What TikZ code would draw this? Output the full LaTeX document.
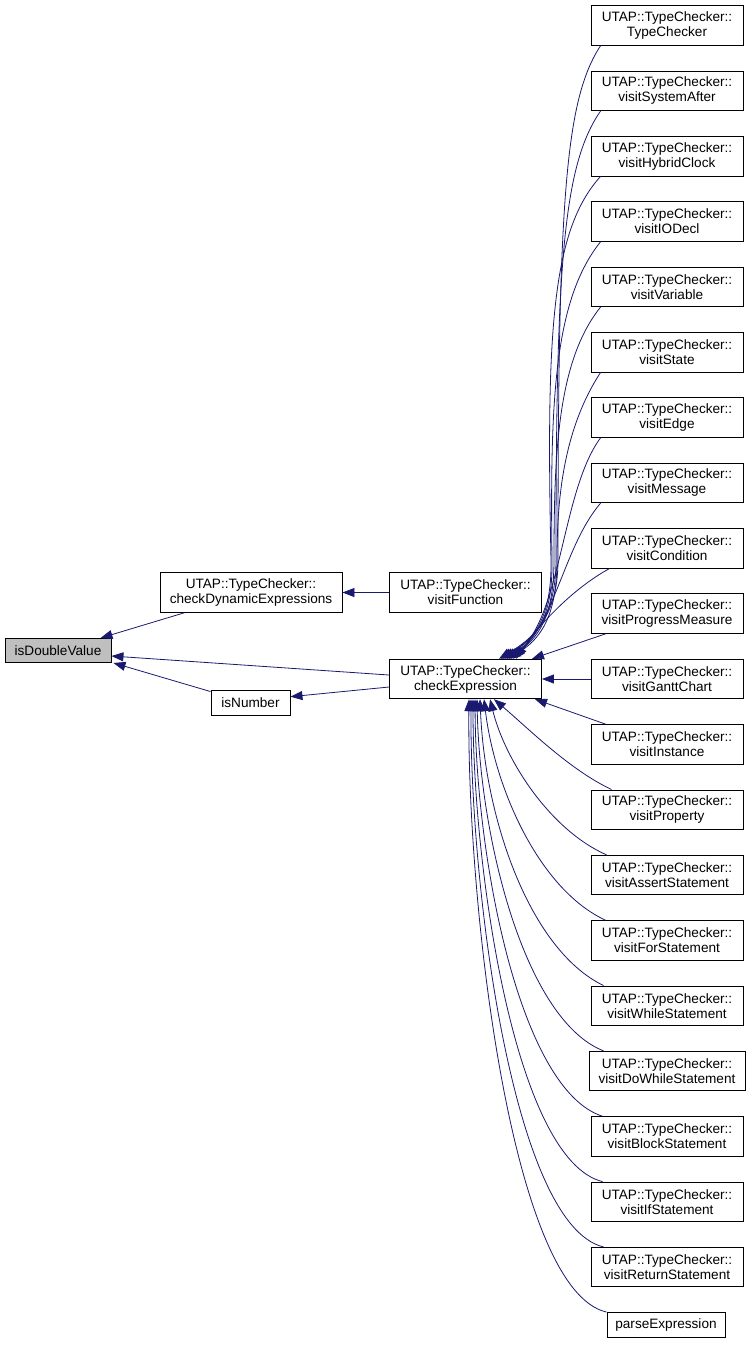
\documentclass[tikz,border=0pt]{standalone}
\usepackage{fontspec}
\setmainfont{Liberation Sans}
\usetikzlibrary{arrows.meta}
\definecolor{edgec}{RGB}{25,25,112}
\definecolor{grayfill}{RGB}{191,191,191}
\begin{document}
\begin{tikzpicture}[x=1pt,y=-1pt,
  box/.style={draw=black, line width=0.9pt, fill=white, inner sep=0pt, align=center,
    minimum width=152pt, minimum height=39.5pt, font=\fontsize{13.6}{15}\selectfont},
  e/.style={draw=edgec, line width=0.8pt, -{Triangle[length=12pt,width=9pt]}}]
\useasboundingbox (0,0) rectangle (751,1345);
% left part
\node[box, fill=grayfill, minimum width=106pt, minimum height=24pt] (IDV) at (58,650.5) {isDoubleValue};
\node[box, minimum width=182pt] (CD) at (251,592.5) {UTAP::TypeChecker::\\checkDynamicExpressions};
\node[box, minimum width=79pt, minimum height=25pt] (NUM) at (250.5,702.5) {isNumber};
\node[box] (VF) at (465.5,592.5) {UTAP::TypeChecker::\\visitFunction};
\node[box] (CE) at (465.5,679) {UTAP::TypeChecker::\\checkExpression};
% right column
\node[box] (TC) at (667,25.5) {UTAP::TypeChecker::\\TypeChecker};
\node[box] (SA) at (667,90.85) {UTAP::TypeChecker::\\visitSystemAfter};
\node[box] (HC) at (667,156.2) {UTAP::TypeChecker::\\visitHybridClock};
\node[box] (IO) at (667,221.55) {UTAP::TypeChecker::\\visitIODecl};
\node[box] (VA) at (667,286.9) {UTAP::TypeChecker::\\visitVariable};
\node[box] (ST) at (667,352.25) {UTAP::TypeChecker::\\visitState};
\node[box] (ED) at (667,417.6) {UTAP::TypeChecker::\\visitEdge};
\node[box] (ME) at (667,482.95) {UTAP::TypeChecker::\\visitMessage};
\node[box] (CO) at (667,548.3) {UTAP::TypeChecker::\\visitCondition};
\node[box] (PM) at (667,613.65) {UTAP::TypeChecker::\\visitProgressMeasure};
\node[box] (GC) at (667,679) {UTAP::TypeChecker::\\visitGanttChart};
\node[box] (IN) at (667,744.35) {UTAP::TypeChecker::\\visitInstance};
\node[box] (PR) at (667,809.7) {UTAP::TypeChecker::\\visitProperty};
\node[box] (AS) at (667,875.05) {UTAP::TypeChecker::\\visitAssertStatement};
\node[box] (FO) at (667,940.4) {UTAP::TypeChecker::\\visitForStatement};
\node[box] (WH) at (667,1005.75) {UTAP::TypeChecker::\\visitWhileStatement};
\node[box, minimum width=156pt] (DW) at (667,1071.1) {UTAP::TypeChecker::\\visitDoWhileStatement};
\node[box] (BL) at (667,1136.45) {UTAP::TypeChecker::\\visitBlockStatement};
\node[box] (IF) at (667,1201.8) {UTAP::TypeChecker::\\visitIfStatement};
\node[box] (RE) at (667,1267.15) {UTAP::TypeChecker::\\visitReturnStatement};
\node[box, minimum width=118pt, minimum height=25pt] (PE) at (666,1325) {parseExpression};
% left edges
\draw[e] ([xshift=25pt]CD.south west) -- ([xshift=-11pt]IDV.north east);
\draw[e] ([yshift=4pt]CE.west) -- ([yshift=-5.5pt]IDV.east);
\draw[e] ([yshift=-2pt]NUM.north west) -- ([xshift=2pt]IDV.south east);
\draw[e] ([yshift=-8pt]CE.west) -- ([yshift=5.8pt]NUM.east);
\draw[e] (VF.west) -- (CD.east);
% upper curved edges into checkExpression
\draw[e] ([xshift=10pt]TC.south west) .. controls (565,100) and (558,200) .. (558,560)
   .. controls (558,620) and (530,640) .. ([xshift=33.5pt]CE.north);
\draw[e] ([xshift=10pt]SA.south west) .. controls (563,165) and (556,265) .. (556,560)
   .. controls (556,620) and (531,640) .. ([xshift=35.5pt]CE.north);
\draw[e] ([xshift=10pt]HC.south west) .. controls (552,230) and (546,330) .. (551,560)
   .. controls (552,620) and (532,640) .. ([xshift=37.5pt]CE.north);
\draw[e] ([xshift=10pt]IO.south west) .. controls (554,300) and (550,400) .. (552,560)
   .. controls (553,620) and (534,640) .. ([xshift=39.5pt]CE.north);
\draw[e] ([xshift=10pt]VA.south west) .. controls (558,360) and (554,450) .. (554,560)
   .. controls (554,620) and (536,640) .. ([xshift=41.5pt]CE.north);
\draw[e] ([xshift=10pt]ST.south west) .. controls (563,430) and (557,500) .. (557,560)
   .. controls (557,620) and (538,640) .. ([xshift=43.5pt]CE.north);
\draw[e] ([xshift=10pt]ED.south west) .. controls (562,490) and (562,612) .. ([xshift=45.5pt]CE.north);
\draw[e] ([xshift=10pt]ME.south west) .. controls (565,545) and (557,615) .. ([xshift=47.5pt]CE.north);
\draw[e] ([xshift=19pt]CO.south west) .. controls (570,590) and (535,630) .. ([xshift=50.5pt]CE.north);
\draw[e] ([xshift=15pt]PM.south west) -- ([xshift=66.5pt]CE.north);
\draw[e] (GC.west) -- (CE.east);
\draw[e] ([xshift=15pt]IN.north west) -- ([xshift=69.5pt]CE.south);
% lower curved edges into checkExpression
\draw[e] ([xshift=21pt]PR.north west) .. controls (570,770) and (530,730) .. ([xshift=28.5pt]CE.south);
\draw[e] ([xshift=16pt]AS.north west) .. controls (550,830) and (505,760) .. ([xshift=24.5pt]CE.south);
\draw[e] ([xshift=15pt]FO.north west) .. controls (540,890) and (495,790) .. ([xshift=18.5pt]CE.south);
\draw[e] ([xshift=13pt]WH.north west) .. controls (530,950) and (485,820) .. ([xshift=14.5pt]CE.south);
\draw[e] ([xshift=15pt]DW.north west) .. controls (525,1020) and (480,840) .. ([xshift=11.5pt]CE.south);
\draw[e] ([xshift=12pt]BL.north west) .. controls (520,1090) and (476,860) .. ([xshift=9.5pt]CE.south);
\draw[e] ([xshift=12pt]IF.north west) .. controls (515,1160) and (473,870) .. ([xshift=7.5pt]CE.south);
\draw[e] ([xshift=13pt]RE.north west) .. controls (512,1225) and (470,885) .. ([xshift=5.5pt]CE.south);
\draw[e] ([xshift=0pt]PE.north west) .. controls (510,1290) and (467,900) .. ([xshift=3.5pt]CE.south);
\end{tikzpicture}
\end{document}
